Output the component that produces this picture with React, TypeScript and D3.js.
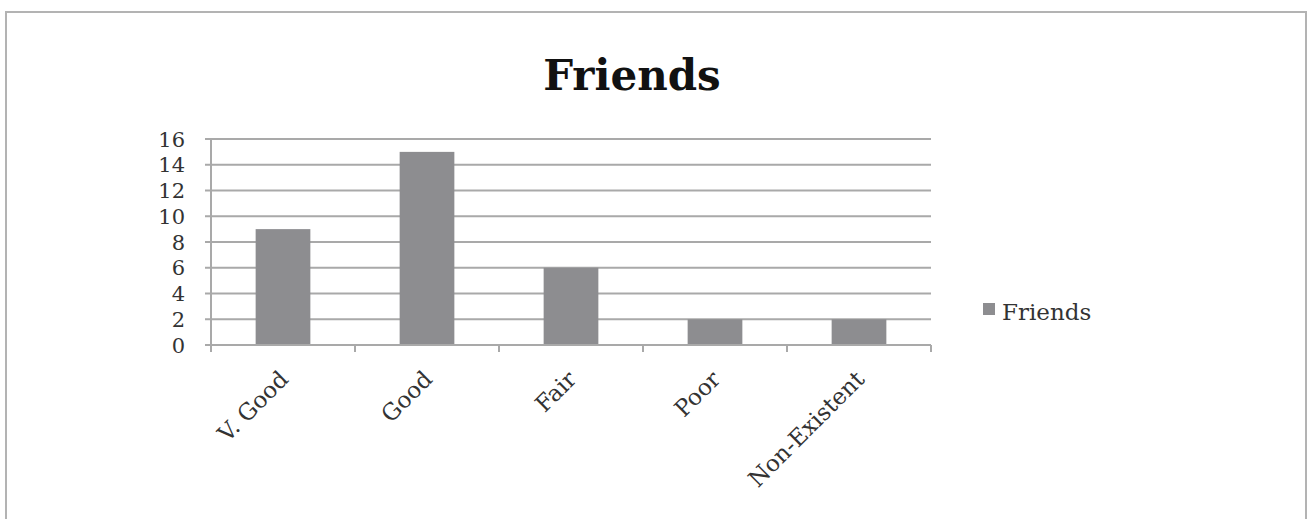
import React, { useEffect, useRef } from "react";
import * as d3 from "d3";

const categories = ["V. Good", "Good", "Fair", "Poor", "Non-Existent"];
const values = [9, 15, 6, 2, 2];
const yTicks = [0, 2, 4, 6, 8, 10, 12, 14, 16];
const seriesName = "Friends";
const title = "Friends";

const W = 1311;
const H = 519;
const FONT = "'DejaVu Serif', 'Liberation Serif', serif";
const GRID = "#a9a9a9";
const BAR = "#8d8d90";

export default function App() {
  const ref = useRef<SVGSVGElement>(null);
  useEffect(() => {
    const svg = d3.select(ref.current);
    svg.selectAll("*").remove();
    const left = 211, right = 931, top = 139, bottom = 345;
    const x = d3.scaleBand<string>().domain(categories).range([left, right]).paddingInner(0.62).paddingOuter(0.31);
    const xb = d3.scaleBand<string>().domain(categories).range([left, right]);
    const y = d3.scaleLinear().domain([0, 16]).range([bottom, top]);

    svg.append("rect").attr("x", 6).attr("y", 12).attr("width", 1300).attr("height", 520)
      .attr("fill", "white").attr("stroke", "#b3b3b3").attr("stroke-width", 2);

    svg.append("text").attr("x", 632).attr("y", 90).attr("text-anchor", "middle")
      .attr("font-family", FONT).attr("font-weight", "bold").attr("font-size", 42).attr("fill", "#111")
      .text(title);

    // gridlines
    svg.append("g").selectAll("line").data(yTicks.filter(d => d > 0)).join("line")
      .attr("x1", left).attr("x2", right).attr("y1", d => y(d)).attr("y2", d => y(d))
      .attr("stroke", GRID).attr("stroke-width", 2);

    // bars
    svg.append("g").selectAll("rect").data(values).join("rect")
      .attr("x", (_, i) => x(categories[i])!).attr("width", x.bandwidth())
      .attr("y", d => y(d)).attr("height", d => y(0) - y(d)).attr("fill", BAR);

    // y axis
    const ya = svg.append("g");
    ya.append("line").attr("x1", left).attr("x2", left).attr("y1", top).attr("y2", bottom)
      .attr("stroke", GRID).attr("stroke-width", 2);
    ya.selectAll("line.t").data(yTicks).join("line").attr("class", "t")
      .attr("x1", left - 6).attr("x2", left).attr("y1", d => y(d)).attr("y2", d => y(d))
      .attr("stroke", GRID).attr("stroke-width", 2);
    ya.selectAll("text").data(yTicks).join("text")
      .attr("x", 185).attr("y", d => y(d)).attr("dy", "0.36em").attr("text-anchor", "end")
      .attr("font-family", FONT).attr("font-size", 21).attr("fill", "#333").text(d => String(d));

    // x axis
    const xa = svg.append("g");
    xa.append("line").attr("x1", left).attr("x2", right).attr("y1", bottom).attr("y2", bottom)
      .attr("stroke", GRID).attr("stroke-width", 2);
    const bounds = categories.map(c => xb(c)!).concat([right]);
    xa.selectAll("line.t").data(bounds).join("line").attr("class", "t")
      .attr("x1", d => d).attr("x2", d => d).attr("y1", bottom).attr("y2", bottom + 7)
      .attr("stroke", GRID).attr("stroke-width", 2);
    xa.selectAll("text").data(categories).join("text")
      .attr("transform", d => `translate(${xb(d)! + xb.bandwidth() / 2 + 1},${bottom + 30}) rotate(-45)`)
      .attr("text-anchor", "end").attr("dy", "0.35em")
      .attr("font-family", FONT).attr("font-size", 23).attr("fill", "#333").text(d => d);

    // legend
    svg.append("rect").attr("x", 983).attr("y", 303).attr("width", 12).attr("height", 12).attr("fill", BAR);
    svg.append("text").attr("x", 1002).attr("y", 320).attr("font-family", FONT).attr("font-size", 23)
      .attr("fill", "#333").text(seriesName);
  }, []);
  return (
    <svg ref={ref} width={W} height={H} style={{ position: "absolute", left: 0, top: 0, background: "white" }} />
  );
}
